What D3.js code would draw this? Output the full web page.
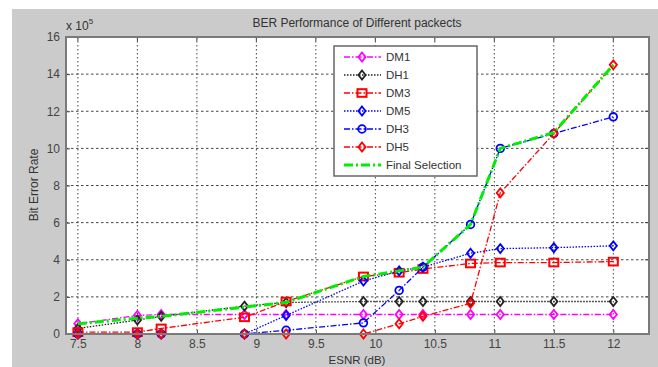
<!DOCTYPE html>
<html><head><meta charset="utf-8">
<script src="https://cdn.jsdelivr.net/npm/d3@7"></script>
<style>body{margin:0;background:#fff}svg{display:block}text{font-family:Arial,"Liberation Sans",sans-serif}</style>
</head><body><svg id="c" width="658" height="367"></svg>
<script>
const esnr = [7.5, 8, 8.2, 8.9, 9.25, 9.9, 10.2, 10.4, 10.8, 11.05, 11.5, 12];
const DM1 = [0.55, 1.0, 1.05, 1.05, 1.05, 1.05, 1.05, 1.05, 1.05, 1.05, 1.05, 1.05];
const DH1 = [0.3, 0.75, 0.95, 1.5, 1.7, 1.75, 1.75, 1.75, 1.75, 1.75, 1.75, 1.75];
const DM3 = [0.1, 0.1, 0.3, 0.9, 1.75, 3.1, 3.3, 3.5, 3.8, 3.85, 3.85, 3.9];
const DM5 = [0, 0, 0, 0, 1.0, 2.85, 3.4, 3.6, 4.35, 4.6, 4.65, 4.75];
const DH3 = [0, 0, 0, 0, 0.2, 0.6, 2.35, 3.6, 5.9, 10.0, 10.8, 11.7];
const DH5 = [0, 0, 0, 0, 0, 0, 0.55, 0.95, 1.65, 7.6, 10.8, 14.5];
const FinalSel = [0.55, 0.85, 0.95, 1.45, 1.7, 3.1, 3.4, 3.6, 5.9, 10.0, 10.85, 14.5];
const xTicks = [7.5, 8, 8.5, 9, 9.5, 10, 10.5, 11, 11.5, 12];
const yTicks = [0, 2, 4, 6, 8, 10, 12, 14, 16];
const seriesNames = ["DM1", "DH1", "DM3", "DM5", "DH3", "DH5", "Final Selection"];

const series = [
  {name: seriesNames[0], v: DM1, color: "#ff00ff", dash: "6,2,1.5,2", marker: "diamond", w: 1.3},
  {name: seriesNames[1], v: DH1, color: "#222222", dash: "1.5,1.5", marker: "diamond", w: 1.3},
  {name: seriesNames[2], v: DM3, color: "#ff0000", dash: "6,2,1.5,2", marker: "square", w: 1.3},
  {name: seriesNames[3], v: DM5, color: "#0000ff", dash: "1.5,1.5", marker: "diamond", w: 1.3},
  {name: seriesNames[4], v: DH3, color: "#0000ff", dash: "6,2,1.5,2", marker: "circle", w: 1.3},
  {name: seriesNames[5], v: DH5, color: "#ff0000", dash: "6,2,1.5,2", marker: "diamond", w: 1.3},
  {name: seriesNames[6], v: FinalSel, color: "#00ee00", dash: "9,3,2,3", marker: null, w: 3}
];

const svg = d3.select("#c");
svg.append("rect").attr("x", 12).attr("y", 9).attr("width", 646).attr("height", 358).attr("fill", "#cbcbcb");

const L = 66, R = 649, T = 37, B = 334;
const x = d3.scaleLinear().domain([7.4, 12.3]).range([L, R]);
const y = d3.scaleLinear().domain([0, 16]).range([B, T]);

svg.append("rect").attr("x", L).attr("y", T).attr("width", R - L).attr("height", B - T).attr("fill", "#fff");

// grid
const g = svg.append("g");
g.selectAll(".gx").data(xTicks).join("line")
  .attr("x1", d => x(d)).attr("x2", d => x(d)).attr("y1", T).attr("y2", B)
  .attr("stroke", "#444").attr("stroke-width", 1).attr("stroke-dasharray", "1.5,2.5");
g.selectAll(".gy").data(yTicks).join("line")
  .attr("x1", L).attr("x2", R).attr("y1", d => y(d)).attr("y2", d => y(d))
  .attr("stroke", "#444").attr("stroke-width", 1).attr("stroke-dasharray", "2.5,2.5");

// axes
const xAxis = d3.axisBottom(x).tickValues(xTicks).tickSizeInner(-4).tickSizeOuter(0).tickPadding(5).tickFormat(d3.format("~g"));
const yAxis = d3.axisLeft(y).tickValues(yTicks).tickSizeInner(-4).tickSizeOuter(0).tickPadding(6);
const gx = svg.append("g").attr("transform", `translate(0,${B})`).call(xAxis);
const gy = svg.append("g").attr("transform", `translate(${L},0)`).call(yAxis);
[gx, gy].forEach(a => {
  a.select(".domain").remove();
  a.selectAll("line").attr("stroke", "#444");
  a.selectAll("text").attr("fill", "#444").attr("font-size", 12);
});
// top/right ticks
svg.append("g").selectAll("line").data(xTicks).join("line")
  .attr("x1", d => x(d)).attr("x2", d => x(d)).attr("y1", T).attr("y2", T + 4).attr("stroke", "#444");
svg.append("g").selectAll("line").data(yTicks).join("line")
  .attr("x1", R).attr("x2", R - 4).attr("y1", d => y(d)).attr("y2", d => y(d)).attr("stroke", "#444");

// lines
const line = d3.line().x((d, i) => x(esnr[i])).y(d => y(d));

function drawMarker(sel, type, color, cx, cy, s) {
  if (type === "diamond") {
    sel.append("path").attr("d", `M${cx},${cy - s}L${cx + s * 0.8},${cy}L${cx},${cy + s}L${cx - s * 0.8},${cy}Z`)
      .attr("fill", "none").attr("stroke", color).attr("stroke-width", 1.8);
  } else if (type === "square") {
    sel.append("rect").attr("x", cx - s).attr("y", cy - s * 0.85).attr("width", 2 * s).attr("height", 1.7 * s)
      .attr("fill", "none").attr("stroke", color).attr("stroke-width", 2);
  } else if (type === "circle") {
    sel.append("ellipse").attr("cx", cx).attr("cy", cy).attr("rx", s * 0.85).attr("ry", s * 0.85)
      .attr("fill", "none").attr("stroke", color).attr("stroke-width", 1.8);
  }
}

const plot = svg.append("g");
series.forEach(s => {
  plot.append("path").datum(s.v).attr("d", line).attr("fill", "none")
    .attr("stroke", s.color).attr("stroke-width", s.w).attr("stroke-dasharray", s.dash);
  if (s.marker) {
    const mg = plot.append("g");
    s.v.forEach((d, i) => drawMarker(mg, s.marker, s.color, x(esnr[i]), y(d), 4.5));
  }
});

// border
svg.append("rect").attr("x", L).attr("y", T).attr("width", R - L).attr("height", B - T)
  .attr("fill", "none").attr("stroke", "#7a7a7a").attr("stroke-width", 2);

// legend
const lg = svg.append("g");
lg.append("rect").attr("x", 334).attr("y", 46).attr("width", 143).attr("height", 130)
  .attr("fill", "#fff").attr("stroke", "#666").attr("stroke-width", 1.5);
series.forEach((s, i) => {
  const ly = 57 + i * 18;
  lg.append("line").attr("x1", 344).attr("x2", 381).attr("y1", ly).attr("y2", ly)
    .attr("stroke", s.color).attr("stroke-width", s.w).attr("stroke-dasharray", s.dash);
  if (s.marker) drawMarker(lg, s.marker, s.color, 362, ly, 4.5);
  lg.append("text").attr("x", 386).attr("y", ly + 4).attr("font-size", 11.5).attr("fill", "#333").text(s.name);
});

// titles
svg.append("text").attr("x", 357).attr("y", 27).attr("text-anchor", "middle").attr("font-size", 12).attr("fill", "#333")
  .text("BER Performance of Different packects");
svg.append("text").attr("x", 357).attr("y", 364).attr("text-anchor", "middle").attr("font-size", 11.5).attr("fill", "#333")
  .text("ESNR (dB)");
svg.append("text").attr("transform", "translate(38,185) rotate(-90)").attr("text-anchor", "middle").attr("font-size", 12).attr("fill", "#333")
  .text("Bit Error Rate");
const ex = svg.append("text").attr("x", 66).attr("y", 30).attr("font-size", 12).attr("fill", "#333");
ex.append("tspan").text("x 10");
ex.append("tspan").attr("dy", -6).attr("font-size", 8).text("5");
</script></body></html>
